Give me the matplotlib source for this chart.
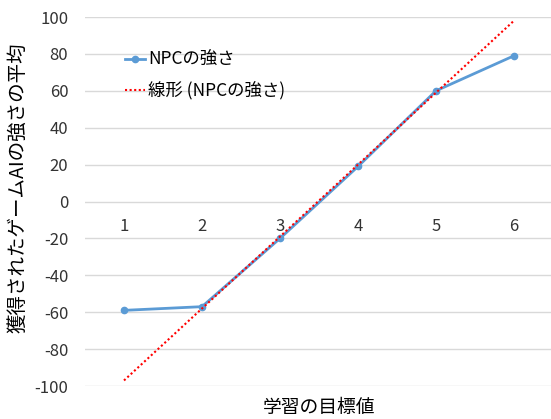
import numpy as np
import matplotlib
matplotlib.use("Agg")
import matplotlib.pyplot as plt

plt.rcParams['font.family'] = ['Noto Sans CJK JP', 'DejaVu Sans']

categories = [1, 2, 3, 4, 5, 6]
npc_strength = [-59, -57, -20, 19, 60, 79]
trend_fit_idx = [1, 2, 3, 4]  # points used for the linear trendline
y_ticks = [-100, -80, -60, -40, -20, 0, 20, 40, 60, 80, 100]

x = np.array(categories, dtype=float)
y = np.array(npc_strength, dtype=float)
slope, intercept = np.polyfit(x[trend_fit_idx], y[trend_fit_idx], 1)
trend = slope * x + intercept

fig = plt.figure(figsize=(5.51, 4.19), dpi=100)
ax = fig.add_axes([85/551, 1 - 386/419, 468/551, 369/419])

for t in y_ticks:
    ax.axhline(t, color='#D9D9D9', lw=1, zorder=0)

ax.plot(x, y, color='#5B9BD5', lw=2, marker='o', ms=4.5, label='NPCの強さ', zorder=3)
ax.plot([x[0], x[-1]], [trend[0], trend[-1]], color='#FF0000', lw=1.5, ls=(0, (1, 1.2)),
        label='線形 (NPCの強さ)', zorder=4)

ax.set_xlim(0.5, 6.5)
ax.set_ylim(-100, 100)
ax.set_yticks(y_ticks)
ax.set_yticklabels([str(t) for t in y_ticks], fontsize=12, color='#333333')
ax.set_xticks([])
for c in categories:
    ax.text(c, -13.5, str(c), ha='center', va='center', fontsize=12, color='#333333')
for s in ax.spines.values():
    s.set_visible(False)
ax.tick_params(axis='y', length=0, pad=12)

fig.text(18/551, 1 - 188/419, '獲得されたゲームAIの強さの平均', rotation=90,
         ha='center', va='center', fontsize=14)
fig.text(319/551, 1 - 407/419, '学習の目標値', ha='center', va='center', fontsize=13.5)

leg = ax.legend(loc='upper left', bbox_to_anchor=(24/468, 1 - 18/369), frameon=False,
                fontsize=12.5, handlelength=1.2, handletextpad=0.15, labelspacing=0.75)

fig.savefig('out.png', dpi=100)
